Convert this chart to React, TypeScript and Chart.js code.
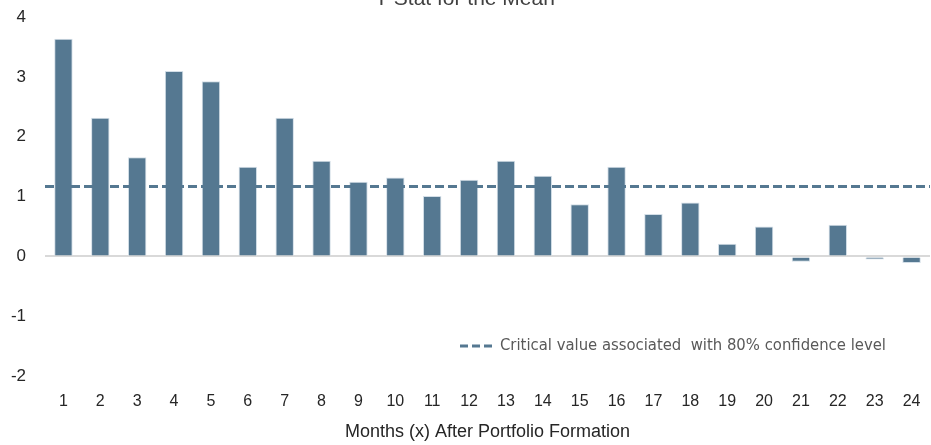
import { useEffect, useRef } from 'react';
import { Chart, registerables } from 'chart.js';

Chart.register(...registerables);

const CATEGORIES = [1, 2, 3, 4, 5, 6, 7, 8, 9, 10, 11, 12, 13, 14, 15, 16, 17, 18, 19, 20, 21, 22, 23, 24];
const T_STATS = [3.64, 2.32, 1.66, 3.1, 2.93, 1.5, 2.32, 1.6, 1.25, 1.32, 1.01, 1.28, 1.6, 1.35, 0.87, 1.5, 0.71, 0.9, 0.21, 0.5, -0.09, 0.53, -0.05, -0.11];
const CRITICAL_VALUE = 1.17;
const Y_MIN = -2;
const Y_MAX = 4;
const TITLE = 'T-Stat for the Mean';
const X_TITLE = 'Months (x) After Portfolio Formation';
const LEGEND_TEXT = 'Critical value associated  with 80% confidence level';

const BAR_COLOR = '#557891';

export default function App() {
  const ref = useRef<HTMLCanvasElement>(null);

  useEffect(() => {
    if (!ref.current) return;
    const xMin = CATEGORIES[0] - 0.5;
    const xMax = CATEGORIES[CATEGORIES.length - 1] + 0.5;

    const legendPlugin = {
      id: 'critLegend',
      afterDraw(chart: any) {
        const { ctx, chartArea, scales } = chart;
        const y = scales.y.getPixelForValue(-1.5);
        const x0 = chartArea.left + 415;
        ctx.save();
        ctx.strokeStyle = BAR_COLOR;
        ctx.lineWidth = 3;
        ctx.setLineDash([8, 4]);
        ctx.beginPath();
        ctx.moveTo(x0, y);
        ctx.lineTo(x0 + 34, y);
        ctx.stroke();
        ctx.setLineDash([]);
        ctx.fillStyle = '#595959';
        ctx.font = '16.5px "Liberation Sans Narrow", "DejaVu Sans Condensed", "Arial Narrow", sans-serif';
        ctx.textBaseline = 'middle';
        ctx.textAlign = 'left';
        ctx.fillText(LEGEND_TEXT, x0 + 40, y);
        ctx.restore();
      },
    };

    const chart = new Chart(ref.current, {
      type: 'bar',
      data: {
        datasets: [
          {
            type: 'line',
            label: 'Critical value',
            data: [
              { x: xMin, y: CRITICAL_VALUE },
              { x: xMax, y: CRITICAL_VALUE },
            ],
            borderColor: BAR_COLOR,
            borderWidth: 3,
            borderDash: [9, 4],
            pointRadius: 0,
            fill: false,
            order: 0,
          } as any,
          {
            type: 'bar',
            label: 'T-Stat',
            data: CATEGORIES.map((c, i) => ({ x: c, y: T_STATS[i] })),
            backgroundColor: BAR_COLOR,
            borderColor: '#d3dee7',
            borderWidth: 1,
            categoryPercentage: 1,
            barPercentage: 0.5,
            order: 1,
          },
        ],
      },
      options: {
        animation: false,
        responsive: true,
        maintainAspectRatio: false,
        layout: { padding: { left: 0, right: 1, top: 0, bottom: 0 } },
        plugins: {
          legend: { display: false },
          tooltip: { enabled: false },
          title: {
            display: true,
            text: TITLE,
            color: '#404040',
            font: { size: 21, family: '"Liberation Sans", Arial, sans-serif', weight: 'normal' },
            padding: { top: 1, bottom: 5 },
          },
        },
        scales: {
          x: {
            type: 'linear',
            min: xMin,
            max: xMax,
            offset: false,
            grid: { display: false, drawTicks: false },
            border: { display: false },
            afterBuildTicks: (scale: any) => {
              scale.ticks = CATEGORIES.map((v) => ({ value: v }));
            },
            ticks: {
              color: '#262626',
              font: { size: 16, family: '"Liberation Sans", Arial, sans-serif' },
              padding: 16,
              maxRotation: 0,
              autoSkip: false,
              callback: (v: any) => String(v),
            },
            title: {
              display: true,
              text: X_TITLE,
              color: '#262626',
              font: { size: 18, family: '"Liberation Sans", Arial, sans-serif' },
              padding: { top: 4, bottom: 2 },
            },
            afterFit: (scale: any) => {
              scale.height = 69;
              scale.paddingLeft = 0;
              scale.paddingRight = 0;
            },
          },
          y: {
            min: Y_MIN,
            max: Y_MAX,
            grid: {
              drawTicks: false,
              lineWidth: 2,
              color: (c: any) => (c.tick && c.tick.value === 0 ? '#d9d9d9' : 'transparent'),
            },
            border: { display: false },
            ticks: {
              stepSize: 1,
              color: '#262626',
              font: { size: 17, family: '"Liberation Sans", Arial, sans-serif' },
              padding: 19,
            },
            afterFit: (scale: any) => {
              scale.width = 45;
            },
          },
        },
      },
      plugins: [legendPlugin],
    });
    return () => chart.destroy();
  }, []);

  return (
    <div style={{ position: 'absolute', left: 0, top: -14, width: 931, height: 459 }}>
      <canvas ref={ref} />
    </div>
  );
}
